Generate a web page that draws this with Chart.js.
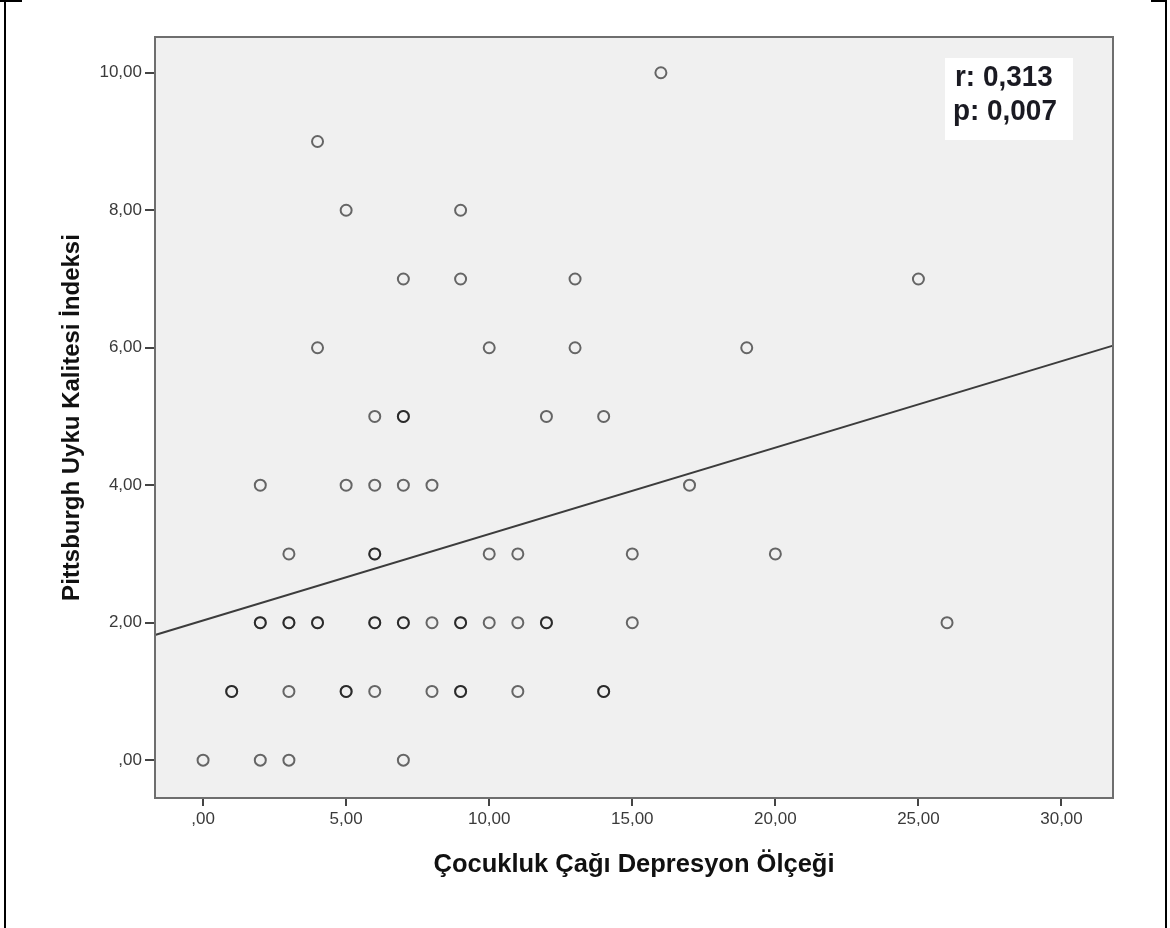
<!DOCTYPE html>
<html>
<head>
<meta charset="utf-8">
<script src="https://cdn.jsdelivr.net/npm/chart.js@4.4.1/dist/chart.umd.min.js"></script>
<style>
  html, body { margin: 0; padding: 0; background: #fff; }
  #wrap { width: 1170px; height: 928px; position: relative; }
  canvas { display: block; }
</style>
</head>
<body>
<div id="wrap"><canvas id="c" width="1170" height="928"></canvas></div>
<script>
// ---- Data (bold-looking markers are repeated points) ----
const depressionScores = [
  16,
  4,
  5, 9,
  7, 9, 13, 25,
  4, 10, 13, 19,
  6, 7, 7, 12, 14,
  2, 5, 6, 7, 8, 17,
  3, 6, 6, 10, 11, 15, 20,
  2, 2, 3, 3, 4, 4, 6, 6, 7, 7, 8, 9, 9, 10, 11, 12, 12, 15, 26,
  1, 1, 3, 5, 5, 6, 8, 9, 9, 11, 14, 14,
  0, 2, 3, 7
];
const sleepScores = [
  10,
  9,
  8, 8,
  7, 7, 7, 7,
  6, 6, 6, 6,
  5, 5, 5, 5, 5,
  4, 4, 4, 4, 4, 4,
  3, 3, 3, 3, 3, 3, 3,
  2, 2, 2, 2, 2, 2, 2, 2, 2, 2, 2, 2, 2, 2, 2, 2, 2, 2, 2,
  1, 1, 1, 1, 1, 1, 1, 1, 1, 1, 1, 1,
  0, 0, 0, 0
];
const fitLineX = [-1.68, 31.8];
const fitLineY = [1.82, 6.03];
const xTicks = [0, 5, 10, 15, 20, 25, 30];
const yTicks = [0, 2, 4, 6, 8, 10];
const xRange = [-1.68, 31.8];
const yRange = [-0.55, 10.52];
const xTitle = 'Çocukluk Çağı Depresyon Ölçeği';
const yTitle = 'Pittsburgh Uyku Kalitesi İndeksi';
const statLines = ['r: 0,313', 'p: 0,007'];

function fmt(v) {
  const s = v.toFixed(2).replace('.', ',');
  return v === 0 ? ',00' : s;
}

const scatterPoints = depressionScores.map((x, i) => ({ x: x, y: sleepScores[i] }));
const linePoints = fitLineX.map((x, i) => ({ x: x, y: fitLineY[i] }));

const bgPlugin = {
  id: 'bg',
  beforeDraw(chart) {
    const { ctx, chartArea: a } = chart;
    ctx.save();
    ctx.fillStyle = '#ffffff';
    ctx.fillRect(0, 0, chart.width, chart.height);
    ctx.fillStyle = '#f0f0f0';
    ctx.fillRect(a.left, a.top, a.right - a.left, a.bottom - a.top);
    // outer frame lines
    ctx.strokeStyle = '#000';
    ctx.lineWidth = 2;
    ctx.beginPath();
    ctx.moveTo(5, 0); ctx.lineTo(5, chart.height);
    ctx.moveTo(0, 1); ctx.lineTo(22, 1);
    ctx.moveTo(1166, 0); ctx.lineTo(1166, chart.height);
    ctx.moveTo(1151, 1); ctx.lineTo(1166, 1);
    ctx.stroke();
    ctx.restore();
  },
  afterDatasetsDraw(chart) {
    const { ctx, chartArea: a } = chart;
    ctx.save();
    ctx.strokeStyle = '#6e6e6e';
    ctx.lineWidth = 2;
    ctx.strokeRect(a.left, a.top, a.right - a.left, a.bottom - a.top);
    // stats box
    ctx.fillStyle = '#ffffff';
    ctx.fillRect(945, 58, 128, 82);
    ctx.fillStyle = '#1a1a22';
    ctx.font = 'bold 30px "Liberation Sans", Arial, sans-serif';
    ctx.textBaseline = 'alphabetic';
    ctx.textAlign = 'left';
    const sx = 0.93;
    ctx.save();
    ctx.translate(955, 86);
    ctx.scale(sx, 1);
    ctx.fillText(statLines[0], 0, 0);
    ctx.restore();
    ctx.save();
    ctx.translate(953, 120);
    ctx.scale(sx, 1);
    ctx.fillText(statLines[1], 0, 0);
    ctx.restore();
    ctx.restore();
  }
};

new Chart(document.getElementById('c'), {
  data: {
    datasets: [
      {
        type: 'line',
        data: linePoints,
        borderColor: '#3c3c3c',
        borderWidth: 2,
        pointRadius: 0,
        fill: false,
        order: 2
      },
      {
        type: 'scatter',
        data: scatterPoints,
        pointRadius: 5.5,
        pointBorderWidth: 2,
        pointBackgroundColor: 'rgba(0,0,0,0)',
        pointBorderColor: 'rgba(0,0,0,0.58)',
        order: 1
      }
    ]
  },
  plugins: [bgPlugin],
  options: {
    responsive: false,
    animation: false,
    clip: false,
    layout: { padding: { left: 8, top: 37, right: 57, bottom: 20 } },
    plugins: { legend: { display: false }, tooltip: { enabled: false } },
    scales: {
      x: {
        type: 'linear',
        min: xRange[0],
        max: xRange[1],
        afterBuildTicks(s) { s.ticks = xTicks.map(v => ({ value: v })); },
        afterFit(s) { s.height = 110; s.paddingLeft = 0; s.paddingRight = 0; },
        border: { display: false },
        grid: { drawOnChartArea: false, drawTicks: true, tickLength: 8, color: '#444', lineWidth: 2 },
        ticks: {
          padding: 3,
          color: '#3a3a3a',
          maxRotation: 0,
          autoSkip: false,
          font: { family: '"Liberation Sans", Arial, sans-serif', size: 17 },
          callback: (v) => fmt(v)
        },
        title: {
          display: true,
          text: xTitle,
          color: '#111',
          padding: { top: 0, bottom: 28 },
          font: { family: '"Liberation Sans", Arial, sans-serif', size: 25.5, weight: 'bold' }
        }
      },
      y: {
        type: 'linear',
        min: yRange[0],
        max: yRange[1],
        afterBuildTicks(s) { s.ticks = yTicks.map(v => ({ value: v })); },
        afterFit(s) { s.width = 147; s.paddingTop = 0; s.paddingBottom = 0; },
        border: { display: false },
        grid: { drawOnChartArea: false, drawTicks: true, tickLength: 10, color: '#444', lineWidth: 2 },
        ticks: {
          padding: 3,
          color: '#3a3a3a',
          autoSkip: false,
          font: { family: '"Liberation Sans", Arial, sans-serif', size: 17 },
          callback: (v) => fmt(v)
        },
        title: {
          display: true,
          text: yTitle,
          color: '#111',
          padding: { top: 50, bottom: 0 },
          font: { family: '"Liberation Sans", Arial, sans-serif', size: 24, weight: 'bold' }
        }
      }
    }
  }
});
</script>
</body>
</html>
